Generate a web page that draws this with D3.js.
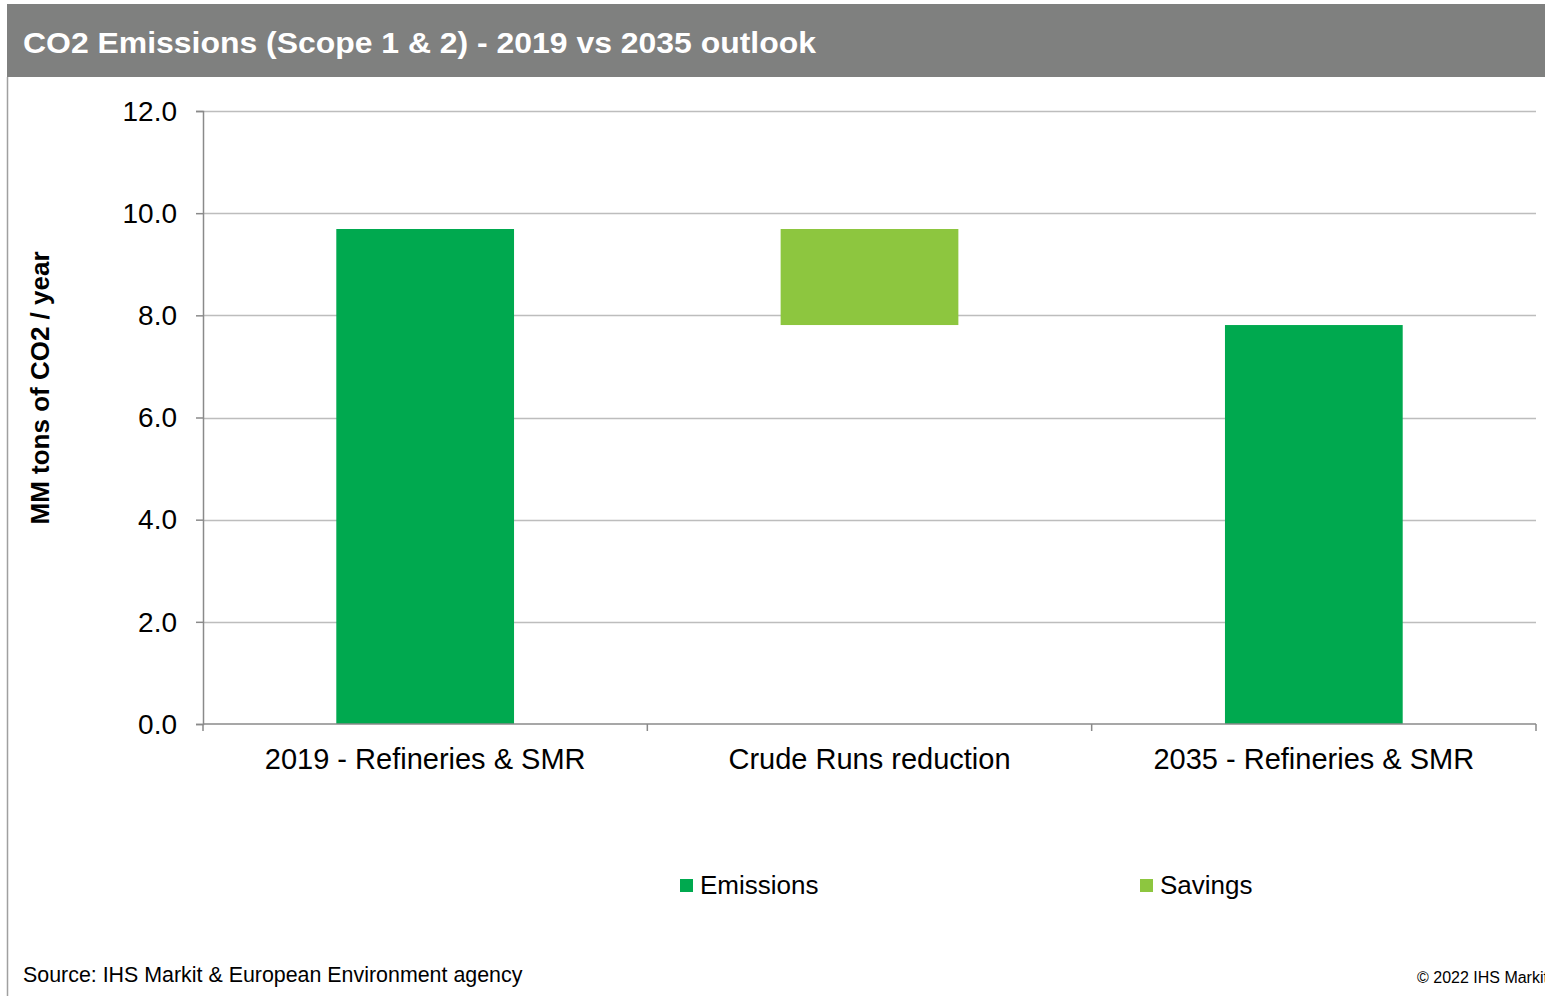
<!DOCTYPE html>
<html>
<head>
<meta charset="utf-8">
<script src="https://cdn.jsdelivr.net/npm/d3@7"></script>
<style>
  html, body { margin: 0; padding: 0; background: #fff; }
  svg { display: block; font-family: "Liberation Sans", Arial, sans-serif; }
</style>
</head>
<body>
<svg id="chart" width="1545" height="996"></svg>
<script>
// waterfall: base (invisible) + visible value per category
const categories = ["2019 - Refineries & SMR", "Crude Runs reduction", "2035 - Refineries & SMR"];
const barBottoms = [0, 7.81, 0];
const barTops = [9.69, 9.69, 7.81];
const barSeries = ["Emissions", "Savings", "Emissions"];
const yTicks = [0, 2, 4, 6, 8, 10, 12];
const legendItems = ["Emissions", "Savings"];
const colors = { Emissions: "#00a94f", Savings: "#8dc63f" };

const svg = d3.select("#chart");
const margin = { top: 111, left: 203, right: 1536, bottom: 724 };

// header band
svg.append("rect").attr("x", 7).attr("y", 4).attr("width", 1538).attr("height", 73).attr("fill", "#7f807f");
svg.append("text").attr("x", 23).attr("y", 53)
  .attr("fill", "#fff").attr("font-size", 30).attr("font-weight", "bold")
  .attr("textLength", 793).attr("lengthAdjust", "spacingAndGlyphs")
  .text("CO2 Emissions (Scope 1 & 2) - 2019 vs 2035 outlook");
svg.append("line").attr("x1", 7.5).attr("x2", 7.5).attr("y1", 77).attr("y2", 996)
  .attr("stroke", "#a0a0a0").attr("stroke-width", 1.5);

const x = d3.scaleBand().domain(categories).range([margin.left, margin.right]).paddingInner(0.6).paddingOuter(0.3);
const xOuter = d3.scaleBand().domain(categories).range([margin.left, margin.right]);
const y = d3.scaleLinear().domain([0, 12]).range([margin.bottom, margin.top]);

// gridlines
svg.append("g").selectAll("line").data(yTicks.filter(d => d > 0)).join("line")
  .attr("x1", margin.left).attr("x2", margin.right)
  .attr("y1", d => Math.round(y(d)) + 0.5).attr("y2", d => Math.round(y(d)) + 0.5)
  .attr("stroke", "#bdbdbd").attr("stroke-width", 1.3);

// bars
svg.append("g").selectAll("rect").data(categories).join("rect")
  .attr("x", d => x(d))
  .attr("width", x.bandwidth())
  .attr("y", (d, i) => y(barTops[i]))
  .attr("height", (d, i) => y(barBottoms[i]) - y(barTops[i]))
  .attr("fill", (d, i) => colors[barSeries[i]]);

// y axis
const yAxis = svg.append("g").attr("transform", `translate(${margin.left},0)`)
  .call(d3.axisLeft(y).tickValues(yTicks).tickFormat(d3.format(".1f")).tickSize(7).tickPadding(19));
yAxis.select(".domain").attr("stroke", "#8a8a8a").attr("stroke-width", 1.5);
yAxis.selectAll(".tick line").attr("stroke", "#8a8a8a").attr("stroke-width", 1.5);
yAxis.selectAll(".tick text").attr("font-size", 28).attr("fill", "#000")
  .attr("font-family", "Liberation Sans, Arial, sans-serif").attr("dy", "0.33em");

// x axis line and ticks at band edges
const xg = svg.append("g");
xg.append("line").attr("x1", margin.left).attr("x2", margin.right)
  .attr("y1", margin.bottom).attr("y2", margin.bottom)
  .attr("stroke", "#8a8a8a").attr("stroke-width", 1.5);
const edges = categories.map(c => xOuter(c)).concat([margin.right]);
xg.selectAll("line.tk").data(edges).join("line").attr("class", "tk")
  .attr("x1", d => d).attr("x2", d => d)
  .attr("y1", margin.bottom).attr("y2", margin.bottom + 7)
  .attr("stroke", "#8a8a8a").attr("stroke-width", 1.5);
xg.selectAll("text").data(categories).join("text")
  .attr("x", d => xOuter(d) + xOuter.bandwidth() / 2)
  .attr("y", 769).attr("text-anchor", "middle")
  .attr("font-size", 29).attr("fill", "#000").text(d => d);

// y axis title
svg.append("text")
  .attr("transform", "translate(49,388) rotate(-90)")
  .attr("text-anchor", "middle").attr("font-size", 26).attr("font-weight", "bold")
  .text("MM tons of CO2 / year");

// legend
const legendX = [680, 1140];
const lg = svg.append("g").selectAll("g").data(legendItems).join("g")
  .attr("transform", (d, i) => `translate(${legendX[i]},879)`);
lg.append("rect").attr("width", 13).attr("height", 13).attr("fill", d => colors[d]);
lg.append("text").attr("x", 20).attr("y", 15).attr("font-size", 26).text(d => d);

// footer
svg.append("text").attr("x", 23).attr("y", 982).attr("font-size", 21.4).text("Source: IHS Markit & European Environment agency");
svg.append("text").attr("x", 1417).attr("y", 983).attr("font-size", 16).text("© 2022 IHS Markit");
</script>
</body>
</html>
